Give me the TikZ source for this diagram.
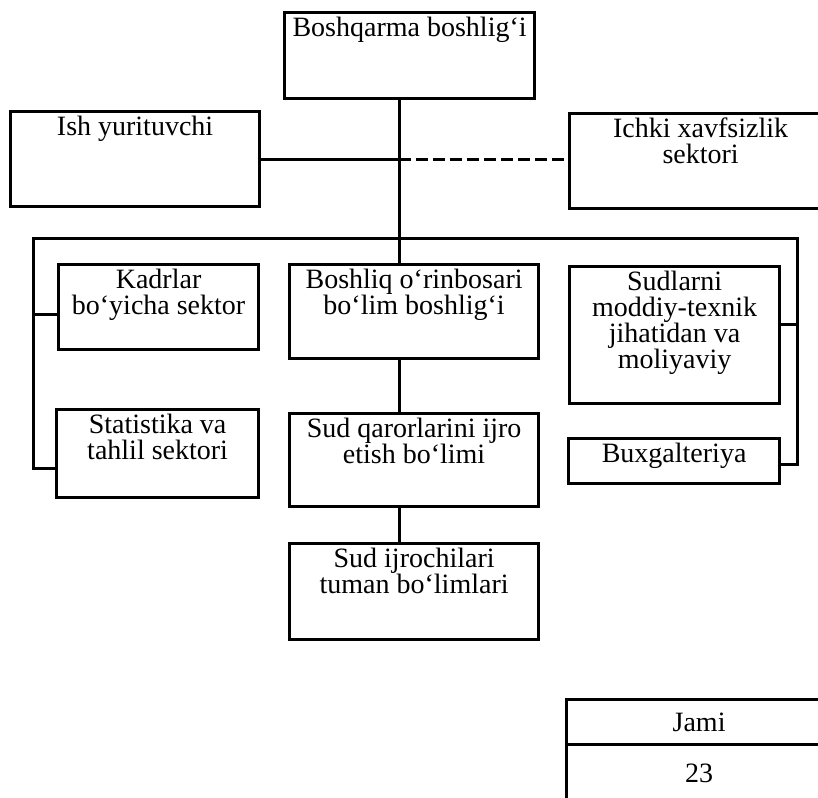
\documentclass[tikz,border=0pt]{standalone}
\usepackage{fontspec}
\setmainfont{Liberation Serif}

\begin{document}
\begin{tikzpicture}[x=1pt,y=-1pt,font=\fontsize{28}{26}\selectfont,
  unit/.style n args={2}{draw,line width=3.2pt,inner sep=0pt,anchor=north west,
    execute at begin node={\begin{minipage}[c][#2][t]{#1}\centering\rule{0pt}{24pt}},
    execute at end node={\end{minipage}}},
  cell/.style={draw,line width=3.2pt,inner sep=0pt,anchor=north west,minimum width=265pt,minimum height=#1},
  link/.style={line width=3pt}]
\useasboundingbox (0,0) rectangle (818,797);
\clip (0,0) rectangle (818,797);
% top level
\node[unit={250pt}{86pt}] (top) at (283,11) {Boshqarma boshlig‘i};
\node[unit={249pt}{95pt}] (ish) at (9,110) {Ish yurituvchi};
\node[unit={262pt}{95pt}] (ichki) at (568,112) {Ichki xavfsizlik\\sektori};
% sectors
\node[unit={200pt}{85pt}] (kadr) at (57,263) {Kadrlar\\bo‘yicha sektor};
\node[unit={202pt}{88pt}] (stat) at (55,408) {Statistika va\\tahlil sektori};
\node[unit={249pt}{94pt}] (boshl) at (288,263) {Boshliq o‘rinbosari\\bo‘lim boshlig‘i};
\node[unit={249pt}{93pt}] (sudq) at (288,412) {Sud qarorlarini ijro\\etish bo‘limi};
\node[unit={249pt}{96pt}] (sudij) at (288,542) {Sud ijrochilari\\tuman bo‘limlari};
\node[unit={210pt}{137pt}] (sudl) at (568,265) {Sudlarni\\moddiy-texnik\\jihatidan va\\moliyaviy};
\node[unit={211pt}{45pt}] (buxg) at (567,437) {Buxgalteriya};
% total
\node[cell=45pt] (jami) at (565,698) {Jami};
\node[cell=57pt] (soni) at (565,743) {23};
% lines
\coordinate (hub) at (399,238);
\coordinate (lbus) at (33,238);
\coordinate (rbus) at (797,238);
\draw[link] (top.south -| hub) -- (boshl.north -| hub);
\draw[link] (ish.east) -- (ish.east -| hub);
\draw[link,dash pattern=on 12pt off 5pt] (ish.east -| hub) -- (ish.east -| ichki.west);
\draw[link] ([yshift=-15pt]stat.west) -| (lbus) -- (rbus) |- ([yshift=-3pt]buxg.east);
\draw[link] ([yshift=-7pt]kadr.west) -- ([yshift=-7pt]kadr.west -| lbus);
\draw[link] ([yshift=11pt]sudl.east) -- ([yshift=11pt]sudl.east -| rbus);
\draw[link] (boshl.south -| hub) -- (sudq.north -| hub);
\draw[link] (sudq.south -| hub) -- (sudij.north -| hub);
\end{tikzpicture}
\end{document}
